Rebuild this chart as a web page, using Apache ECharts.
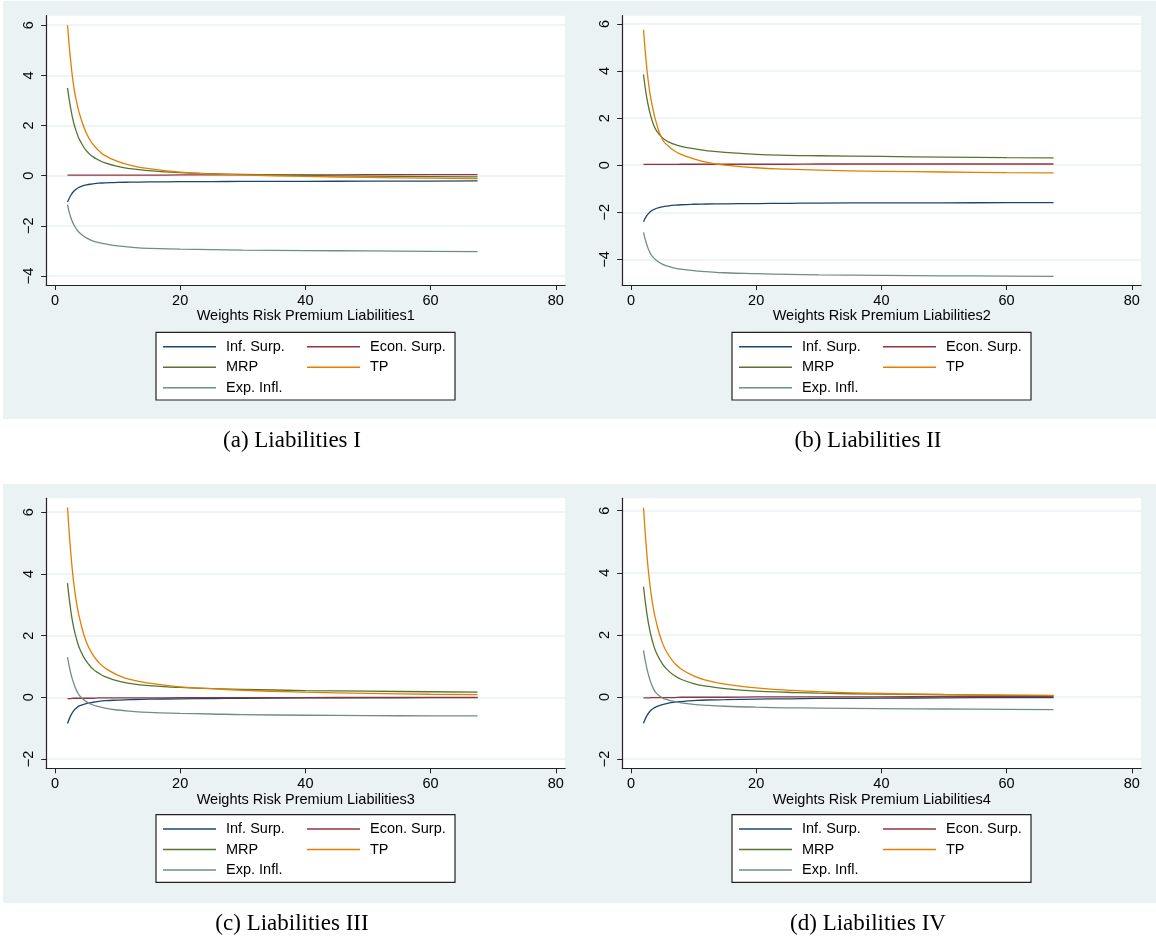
<!DOCTYPE html>
<html>
<head>
<meta charset="utf-8">
<script src="https://cdn.jsdelivr.net/npm/echarts@6/dist/echarts.min.js"></script>
<style>
html,body{margin:0;padding:0;background:#fff;}
#c{width:1156px;height:940px;}
</style>
</head>
<body>
<div id="c"></div>
<script>
// ---- data ----
const xs = [2, 2.5, 3, 3.5, 4, 5, 6, 7, 8, 10, 12, 15, 20, 25, 30, 40, 50, 60, 67.5];
const seriesNames = ['Inf. Surp.', 'Econ. Surp.', 'MRP', 'TP', 'Exp. Infl.'];
const xTicks = [0, 20, 40, 60, 80];

// Panel (a) Liabilities I
const infA  = [-1.05,-0.8,-0.62,-0.52,-0.45,-0.37,-0.33,-0.30,-0.29,-0.27,-0.26,-0.25,-0.24,-0.235,-0.23,-0.225,-0.22,-0.215,-0.21];
const econA = [0.02,0.02,0.02,0.02,0.02,0.02,0.02,0.02,0.02,0.02,0.02,0.02,0.03,0.03,0.03,0.03,0.04,0.04,0.04];
const mrpA  = [3.5,2.7,2.1,1.7,1.4,1.0,0.77,0.62,0.51,0.37,0.28,0.20,0.12,0.08,0.05,0.01,-0.02,-0.04,-0.05];
const tpA   = [6.0,4.6,3.55,2.9,2.4,1.7,1.28,1.0,0.8,0.57,0.42,0.28,0.14,0.07,0.03,-0.03,-0.07,-0.10,-0.12];
const expA  = [-1.15,-1.65,-1.95,-2.15,-2.3,-2.48,-2.6,-2.67,-2.72,-2.8,-2.85,-2.9,-2.93,-2.95,-2.97,-2.99,-3.0,-3.02,-3.03];
const yTicksA = [-4, -2, 0, 2, 4, 6];

// Panel (b) Liabilities II
const infB  = [-2.4,-2.15,-2.0,-1.9,-1.84,-1.77,-1.73,-1.70,-1.68,-1.66,-1.65,-1.64,-1.63,-1.62,-1.61,-1.60,-1.60,-1.59,-1.59];
const econB = [0.03,0.03,0.03,0.03,0.03,0.03,0.03,0.03,0.04,0.04,0.04,0.04,0.04,0.04,0.05,0.05,0.05,0.05,0.05];
const mrpB  = [3.85,2.9,2.25,1.8,1.5,1.17,0.99,0.88,0.80,0.70,0.62,0.54,0.46,0.42,0.40,0.37,0.34,0.32,0.31];
const tpB   = [5.75,4.2,3.1,2.4,1.85,1.1,0.8,0.6,0.46,0.27,0.13,0.0,-0.11,-0.17,-0.21,-0.26,-0.29,-0.32,-0.33];
const expB  = [-2.85,-3.35,-3.7,-3.9,-4.03,-4.2,-4.3,-4.37,-4.42,-4.48,-4.52,-4.57,-4.61,-4.64,-4.66,-4.68,-4.70,-4.71,-4.72];
const yTicksB = [-4, -2, 0, 2, 4, 6];

// Panel (c) Liabilities III
const infC  = [-0.85,-0.6,-0.43,-0.33,-0.27,-0.2,-0.16,-0.13,-0.11,-0.09,-0.075,-0.06,-0.05,-0.04,-0.03,-0.02,-0.02,-0.01,-0.01];
const econC = [-0.04,-0.04,-0.03,-0.03,-0.03,-0.03,-0.03,-0.02,-0.02,-0.02,-0.02,-0.02,-0.01,-0.01,-0.01,-0.01,0.0,0.0,0.0];
const mrpC  = [3.7,2.85,2.25,1.85,1.55,1.17,0.93,0.78,0.67,0.53,0.45,0.38,0.32,0.28,0.26,0.22,0.20,0.18,0.17];
const tpC   = [6.15,4.75,3.7,3.0,2.5,1.8,1.4,1.13,0.95,0.72,0.58,0.46,0.34,0.28,0.23,0.17,0.13,0.10,0.09];
const expC  = [1.3,0.8,0.45,0.2,0.04,-0.14,-0.24,-0.3,-0.35,-0.41,-0.45,-0.49,-0.52,-0.54,-0.56,-0.58,-0.59,-0.6,-0.6];
const yTicksC = [-2, 0, 2, 4, 6];

// Panel (d) Liabilities IV
const infD  = [-0.85,-0.62,-0.47,-0.38,-0.32,-0.25,-0.2,-0.17,-0.15,-0.12,-0.1,-0.09,-0.07,-0.06,-0.05,-0.04,-0.03,-0.02,-0.02];
const econD = [-0.03,-0.03,-0.03,-0.02,-0.02,-0.02,-0.02,-0.02,-0.01,-0.01,-0.01,-0.01,0.0,0.0,0.0,0.0,0.01,0.01,0.01];
const mrpD  = [3.55,2.75,2.15,1.75,1.45,1.07,0.84,0.68,0.57,0.43,0.35,0.27,0.19,0.15,0.12,0.09,0.07,0.05,0.04];
const tpD   = [6.1,4.7,3.65,2.95,2.45,1.75,1.35,1.08,0.9,0.68,0.54,0.41,0.29,0.22,0.17,0.11,0.08,0.06,0.05];
const expD  = [1.5,0.95,0.57,0.3,0.13,-0.03,-0.1,-0.15,-0.19,-0.24,-0.27,-0.3,-0.33,-0.35,-0.36,-0.38,-0.39,-0.4,-0.41];
const yTicksD = [-2, 0, 2, 4, 6];

const xTitles = ['Weights Risk Premium Liabilities1','Weights Risk Premium Liabilities2','Weights Risk Premium Liabilities3','Weights Risk Premium Liabilities4'];
const captions = ['(a) Liabilities I','(b) Liabilities II','(c) Liabilities III','(d) Liabilities IV'];

// ---- layout / style ----
const colors = ['#1a476f', '#90353b', '#55752f', '#e37e00', '#6e8e84'];
const BG = '#eaf2f3';
const SANS = '"Liberation Sans", Arial, Helvetica, sans-serif';
const FS = 14.5;

const panels = [
  {data:[infA,econA,mrpA,tpA,expA], yTicks:yTicksA, ymin:-4.36, ymax:6.38, left:46.2, top:15.7, h:269.3, legTop:338.7, capY:441},
  {data:[infB,econB,mrpB,tpB,expB], yTicks:yTicksB, ymin:-5.09, ymax:6.35, left:622.2, top:15.7, h:269.3, legTop:338.7, capY:441},
  {data:[infC,econC,mrpC,tpC,expC], yTicks:yTicksC, ymin:-2.3, ymax:6.45, left:46.2, top:498.3, h:270, legTop:821, capY:924},
  {data:[infD,econD,mrpD,tpD,expD], yTicks:yTicksD, ymin:-2.3, ymax:6.4, left:622.2, top:498.3, h:270, legTop:821, capY:924}
];
const plotW = 519;

const grid = [], xAxis = [], yAxis = [], series = [], legend = [], graphic = [];

graphic.push({type:'rect', shape:{x:3, y:1, width:1153, height:418}, style:{fill:BG}, z:-10, silent:true});
graphic.push({type:'rect', shape:{x:3, y:484, width:1153, height:419}, style:{fill:BG}, z:-10, silent:true});

panels.forEach((p, i) => {
  grid.push({left:p.left, top:p.top, width:plotW, height:p.h, show:true, backgroundColor:'#fff', borderWidth:0, containLabel:false});
  xAxis.push({
    type:'value', gridIndex:i, min:-1.4, max:81.5,
    name:xTitles[i], nameLocation:'middle', nameGap:23,
    nameTextStyle:{fontFamily:SANS, fontSize:FS, color:'#000'},
    axisLine:{show:true, onZero:false, lineStyle:{color:'#222', width:1.2}},
    axisTick:{show:true, length:5, customValues:xTicks, lineStyle:{color:'#222', width:1}},
    axisLabel:{show:true, margin:8, customValues:xTicks, fontFamily:SANS, fontSize:FS, color:'#000'},
    splitLine:{show:false}
  });
  yAxis.push({
    type:'value', gridIndex:i, min:p.ymin, max:p.ymax,
    axisLine:{show:true, onZero:false, lineStyle:{color:'#222', width:1.2}},
    axisTick:{show:true, length:5, customValues:p.yTicks, lineStyle:{color:'#222', width:1}},
    axisLabel:{show:true, rotate:90, margin:10, customValues:p.yTicks, fontFamily:SANS, fontSize:FS, color:'#000',
      formatter: v => (v < 0 ? '\u2212' + Math.abs(v) : String(v))},
    splitLine:{show:false}
  });
  // horizontal grid lines at tick values
  series.push({
    type:'line', name:'_grid'+i, xAxisIndex:i, yAxisIndex:i, data:[], z:0, zlevel:0, silent:true,
    markLine:{silent:true, z:0, symbol:['none','none'], label:{show:false}, animation:false,
      emphasis:{disabled:true},
      lineStyle:{color:BG, width:1.6, type:'solid'},
      data:p.yTicks.map(v => ({yAxis:v}))}
  });
  p.data.forEach((arr, k) => {
    series.push({
      type:'line', name:seriesNames[k], xAxisIndex:i, yAxisIndex:i,
      data:xs.map((x, j) => [x, arr[j]]),
      smooth:0.5, showSymbol:false, symbol:'none', z:6,
      lineStyle:{color:colors[k], width:1.3}, itemStyle:{color:colors[k]}
    });
  });
  const off = p.left - 46.2;
  const legCommon = {
    orient:'vertical', top:p.legTop, padding:0, itemGap:4.5, itemWidth:53, itemHeight:1.6,
    icon:'rect', selectedMode:false,
    textStyle:{fontFamily:SANS, fontSize:FS, color:'#000', lineHeight:16, padding:[0,0,0,5]}
  };
  legend.push(Object.assign({}, legCommon, {left:163 + off, data:['Inf. Surp.', 'MRP', 'Exp. Infl.']}));
  legend.push(Object.assign({}, legCommon, {left:307 + off, data:['Econ. Surp.', 'TP']}));
  const boxTop = p.legTop - 6.4;
  graphic.push({type:'rect', shape:{x:156 + off, y:boxTop, width:299, height:67.7},
    style:{fill:'#fff', stroke:'#222', lineWidth:1.2}, z:-5, silent:true});
  graphic.push({type:'text', x:292 + off, y:p.capY,
    style:{text:captions[i], fill:'#000', font:'23px "Liberation Serif", "Times New Roman", serif', align:'center', verticalAlign:'middle'}, silent:true});
});

const chart = echarts.init(document.getElementById('c'), null, {renderer:'canvas'});
chart.setOption({animation:false, backgroundColor:'#fff', grid, xAxis, yAxis, series, legend, graphic});
</script>
</body>
</html>
